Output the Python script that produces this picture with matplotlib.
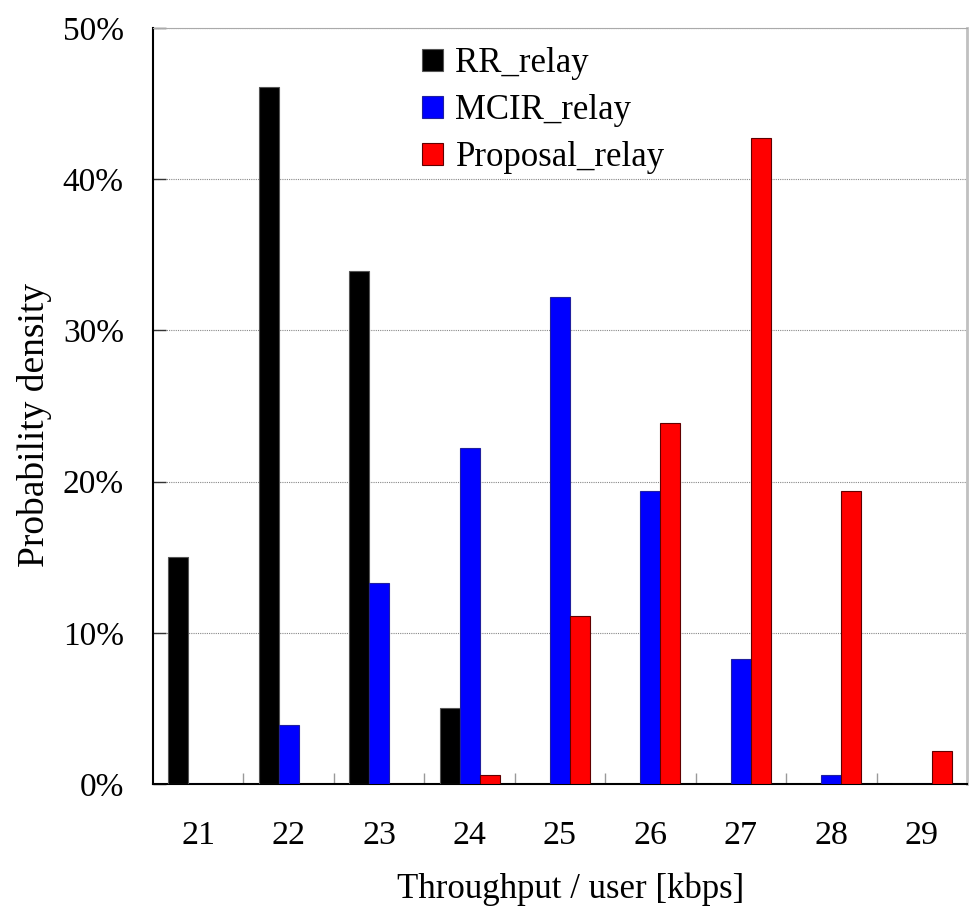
import matplotlib
matplotlib.use("Agg")
import matplotlib.pyplot as plt
import numpy as np
from matplotlib.ticker import FixedLocator, FuncFormatter

plt.rcParams['font.family'] = ['Liberation Serif', 'DejaVu Serif']

throughput = ['21', '22', '23', '24', '25', '26', '27', '28', '29']
rr_relay = [15.0, 46.1, 33.9, 5.0, 0.0, 0.0, 0.0, 0.0, 0.0]
mcir_relay = [0.0, 3.9, 13.3, 22.2, 32.2, 19.4, 8.3, 0.6, 0.0]
proposal_relay = [0.0, 0.0, 0.0, 0.6, 11.1, 23.9, 42.7, 19.4, 2.2]

series = [
    ('RR_relay', rr_relay, '#000000', '#555555'),
    ('MCIR_relay', mcir_relay, '#0000ff', '#2020a0'),
    ('Proposal_relay', proposal_relay, '#ff0000', '#600000'),
]

fig = plt.figure(figsize=(9.79, 9.07), dpi=100)
ax = fig.add_axes([153 / 979, 1 - 784 / 907, (967 - 153) / 979, (784 - 28) / 907])

x = np.arange(len(throughput))
width = 0.221
offsets = [-width, 0.0, width]
for (name, vals, fc, ec), off in zip(series, offsets):
    ax.bar(x + off, vals, width=width, color=fc, edgecolor=ec, linewidth=0.8,
           label=name, zorder=3)

ax.set_xlim(-0.5, len(throughput) - 0.5)
ax.set_ylim(0, 50)

# y axis: percentage ticks, dotted grid
ax.set_yticks(np.arange(0, 51, 10))
ax.yaxis.set_major_formatter(FuncFormatter(lambda v, p: f"{int(v)}%"))
ax.tick_params(axis='y', direction='in', length=9, width=1.0, color='#333333',
               labelsize=24, pad=21)
ax.yaxis.grid(True, linestyle=(0, (1, 1)), color='#888888', linewidth=0.8, zorder=0)

# x axis: labels at category centres, marks at category boundaries
ax.set_xticks(x)
ax.set_xticklabels(throughput)
ax.tick_params(axis='x', which='major', length=0, labelsize=24.5, pad=26)
ax.xaxis.set_minor_locator(FixedLocator(np.arange(0.5, len(throughput) - 0.5, 1.0)))
ax.tick_params(axis='x', which='minor', direction='in', length=8, width=1.0,
               color='#999999')

for side in ['left', 'bottom']:
    ax.spines[side].set_color('#000000')
    ax.spines[side].set_linewidth(1.5)
ax.spines['top'].set_color('#aaaaaa')
ax.spines['top'].set_linewidth(0.8)
ax.spines['right'].set_color('#c0c0c0')
ax.spines['right'].set_linewidth(2.0)

ax.set_xlabel('Throughput / user [kbps]', fontsize=25)
ax.xaxis.set_label_coords(0.5135, -0.1177)
ax.set_ylabel('Probability density', fontsize=27)
ax.yaxis.set_label_coords(-0.124, 0.475)

ax.legend(loc='upper left', bbox_to_anchor=(0.314, 0.993), frameon=False,
          fontsize=25, handlelength=0.6, handleheight=0.6, handletextpad=0.35,
          labelspacing=0.4, borderaxespad=0.0)

fig.savefig('out.png', dpi=100, facecolor='white')
